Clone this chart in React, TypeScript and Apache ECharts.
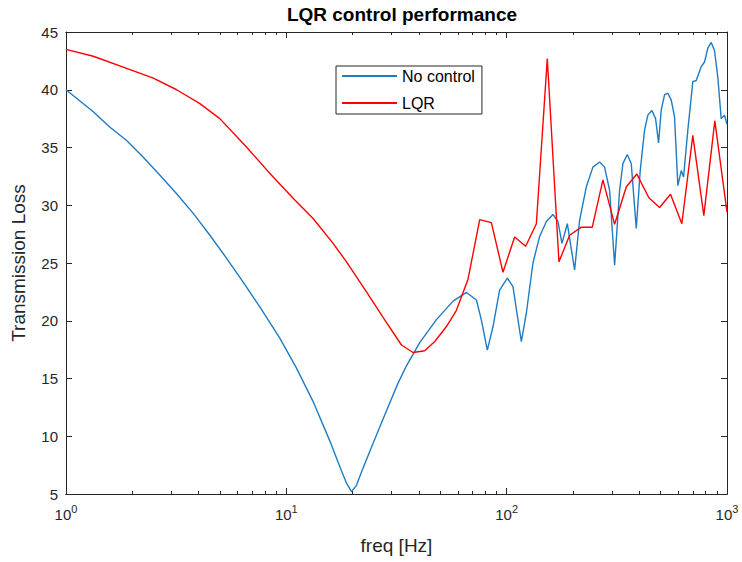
import React, { useEffect, useRef } from "react";
import * as echarts from "echarts";

// No control (blue)
const noCtrlFreq = [
  1, 1.33, 1.583, 1.885, 2.242, 2.67, 3.177, 3.78, 4.498, 5.36, 6.37, 7.58, 9.34,
  11.12, 13.23, 15.75, 17.8, 18.75, 19.76, 20.82, 21.93, 24.76, 28.48, 32.14,
  35.09, 40.3, 48.0, 57.1, 65.7, 72.9, 76.8, 81.7,
  86.7, 92.9, 100.7, 106.8, 111.4, 116.6, 122.8, 131.6, 141.1, 151.4, 162.2,
  170.9, 178.2, 188.5, 203.4, 214.3, 229.9, 246.3, 264.2, 278.2, 293.2, 309.0,
  325.5, 336.9, 352.7, 367.7, 387.4, 404.0, 422.6, 437.3, 456.0, 474.0, 489.1,
  503.0, 520.6, 538.8, 558.3, 578.0, 598.3, 619.9, 635.0, 664.1, 699.7, 724.9,
  763.8, 790.7, 818.4, 847.9, 877.6, 908.4, 941.1, 974.3, 1000,
];
const noCtrlTL = [
  40.0, 38.1, 36.75, 35.6, 34.15, 32.6, 31.0, 29.3, 27.4, 25.4, 23.35, 21.2, 18.5,
  15.9, 13.0, 9.6, 7.0, 5.95, 5.2, 5.75, 6.9, 9.4, 12.2, 14.6,
  16.1, 18.1, 20.1, 21.7, 22.45, 21.8, 20.05, 17.45,
  19.5, 22.65, 23.7, 22.95, 20.65, 18.2, 20.65, 25.0, 27.3, 28.6, 29.2,
  28.6, 26.7, 28.4, 24.4, 28.7, 31.6, 33.3, 33.75, 33.3, 31.3, 24.8,
  31.3, 33.6, 34.4, 33.6, 28.0, 33.05, 36.5, 37.8, 38.2, 37.5, 35.4,
  38.25, 39.55, 39.7, 39.1, 37.65, 31.7, 33.0, 32.45, 36.5, 40.7, 40.8,
  42.0, 42.4, 43.6, 44.1, 43.4, 41.1, 37.5, 37.8, 37.0,
];

// LQR (red)
const lqrFreq = [
  1, 1.33, 1.885, 2.49, 3.18, 4.05, 4.99, 6.48, 8.71, 10.93, 13.23, 16.3, 18.75,
  23.11, 27.48, 33.31, 37.59, 42.48, 47.16, 53.28, 59.15, 66.77, 75.44, 85.22,
  96.2, 108.7, 122.0, 136.4, 152.9, 172.7, 193.1, 218.2, 244.7, 273.4, 309.0,
  349.2, 389.8, 442.0, 494.2, 554.3, 623.7, 699.7, 784.8, 880.6, 1000,
];
const lqrTL = [
  43.5, 42.9, 41.85, 41.0, 40.0, 38.8, 37.5, 35.2, 32.45, 30.45, 28.85, 26.7, 25.1,
  22.5, 20.3, 17.9, 17.25, 17.4, 18.2, 19.5, 20.9, 23.6, 28.75, 28.5,
  24.2, 27.25, 26.45, 28.4, 42.7, 25.1, 27.4, 28.1, 28.1, 32.2, 28.35,
  31.6, 32.7, 30.65, 29.8, 30.95, 28.4, 36.05, 29.1, 37.3, 29.4,
];

const majorTicks = [1, 10, 100, 1000];
const minorTicks = [
  2, 3, 4, 5, 6, 7, 8, 9, 20, 30, 40, 50, 60, 70, 80, 90, 200, 300, 400, 500,
  600, 700, 800, 900,
];

const FONT = "Liberation Sans, Arial, Helvetica, sans-serif";
const AX = "#262626";
const BLUE = "#1f7bc3";
const RED = "#FF0000";

export default function App() {
  const ref = useRef<HTMLDivElement>(null);
  useEffect(() => {
    if (!ref.current) return;
    const chart = echarts.init(ref.current, undefined, { renderer: "svg" });
    const baseX = (position: string, ticks: number[], len: number, labels: boolean) => ({
      type: "log",
      logBase: 10,
      min: 1,
      max: 1000,
      position,
      axisLine: { show: true, onZero: false, lineStyle: { color: AX, width: 1 } },
      axisTick: { show: true, inside: true, length: len, customValues: ticks, lineStyle: { color: AX } },
      axisLabel: labels
        ? {
            show: true,
            customValues: majorTicks,
            margin: 9,
            color: AX,
            fontFamily: FONT,
            formatter: (v: number) => `{b|10}{s|${Math.round(Math.log10(v))}}`,
            rich: {
              b: { fontSize: 15, fontFamily: FONT, color: AX, verticalAlign: "bottom" },
              s: { fontSize: 11, fontFamily: FONT, color: AX, verticalAlign: "bottom", padding: [0, 0, 8, 0] },
            },
          }
        : { show: false },
      splitLine: { show: false },
      minorTick: { show: false },
    });
    const option = {
      animation: false,
      backgroundColor: "#ffffff",
      textStyle: { fontFamily: FONT },
      title: {
        text: "LQR control performance",
        left: 397,
        top: 0,
        textAlign: "center",
        textStyle: { fontFamily: FONT, fontWeight: "bold", fontSize: 19, color: "#000" },
      },
      legend: {
        orient: "vertical",
        left: 336,
        top: 66,
        padding: [2, 7, 3, 5],
        itemGap: 11,
        itemWidth: 55,
        itemHeight: 14,
        backgroundColor: "#fff",
        borderColor: AX,
        borderWidth: 1,
        borderRadius: 0,
        itemStyle: { opacity: 0 },
        textStyle: { fontFamily: FONT, fontSize: 16, color: "#000" },
        data: ["No control", "LQR"],
      },
      grid: { left: 66, right: 15, top: 32, bottom: 68, containLabel: false },
      xAxis: [
        {
          ...baseX("bottom", majorTicks, 6, true),
          name: "freq [Hz]",
          nameLocation: "middle",
          nameGap: 42,
          nameTextStyle: { fontFamily: FONT, fontSize: 19, color: AX },
        },
        baseX("top", majorTicks, 6, false),
        baseX("bottom", minorTicks, 3, false),
        baseX("top", minorTicks, 3, false),
      ],
      yAxis: [
        {
          type: "value",
          min: 5,
          max: 45,
          interval: 5,
          position: "left",
          axisLine: { show: true, onZero: false, lineStyle: { color: AX } },
          axisTick: { show: true, inside: true, length: 6, lineStyle: { color: AX } },
          axisLabel: { color: AX, fontSize: 15, fontFamily: FONT, margin: 8 },
          splitLine: { show: false },
          name: "Transmission Loss",
          nameLocation: "middle",
          nameGap: 38,
          nameTextStyle: { fontFamily: FONT, fontSize: 19, color: AX },
        },
        {
          type: "value",
          min: 5,
          max: 45,
          interval: 5,
          position: "right",
          axisLine: { show: true, onZero: false, lineStyle: { color: AX } },
          axisTick: { show: true, inside: true, length: 6, lineStyle: { color: AX } },
          axisLabel: { show: false },
          splitLine: { show: false },
        },
      ],
      series: [
        {
          name: "No control",
          type: "line",
          xAxisIndex: 0,
          yAxisIndex: 0,
          symbol: "none",
          showSymbol: false,
          color: BLUE,
          lineStyle: { color: BLUE, width: 1.4 },
          data: noCtrlFreq.map((f, i) => [f, noCtrlTL[i]]),
        },
        {
          name: "LQR",
          type: "line",
          xAxisIndex: 0,
          yAxisIndex: 0,
          symbol: "none",
          showSymbol: false,
          color: RED,
          lineStyle: { color: RED, width: 1.4 },
          data: lqrFreq.map((f, i) => [f, lqrTL[i]]),
        },
      ],
    };
    chart.setOption(option as any);
    return () => chart.dispose();
  }, []);
  return (
    <div
      ref={ref}
      style={{ position: "fixed", left: 0, top: 0, width: 742, height: 562, background: "#fff" }}
    />
  );
}
